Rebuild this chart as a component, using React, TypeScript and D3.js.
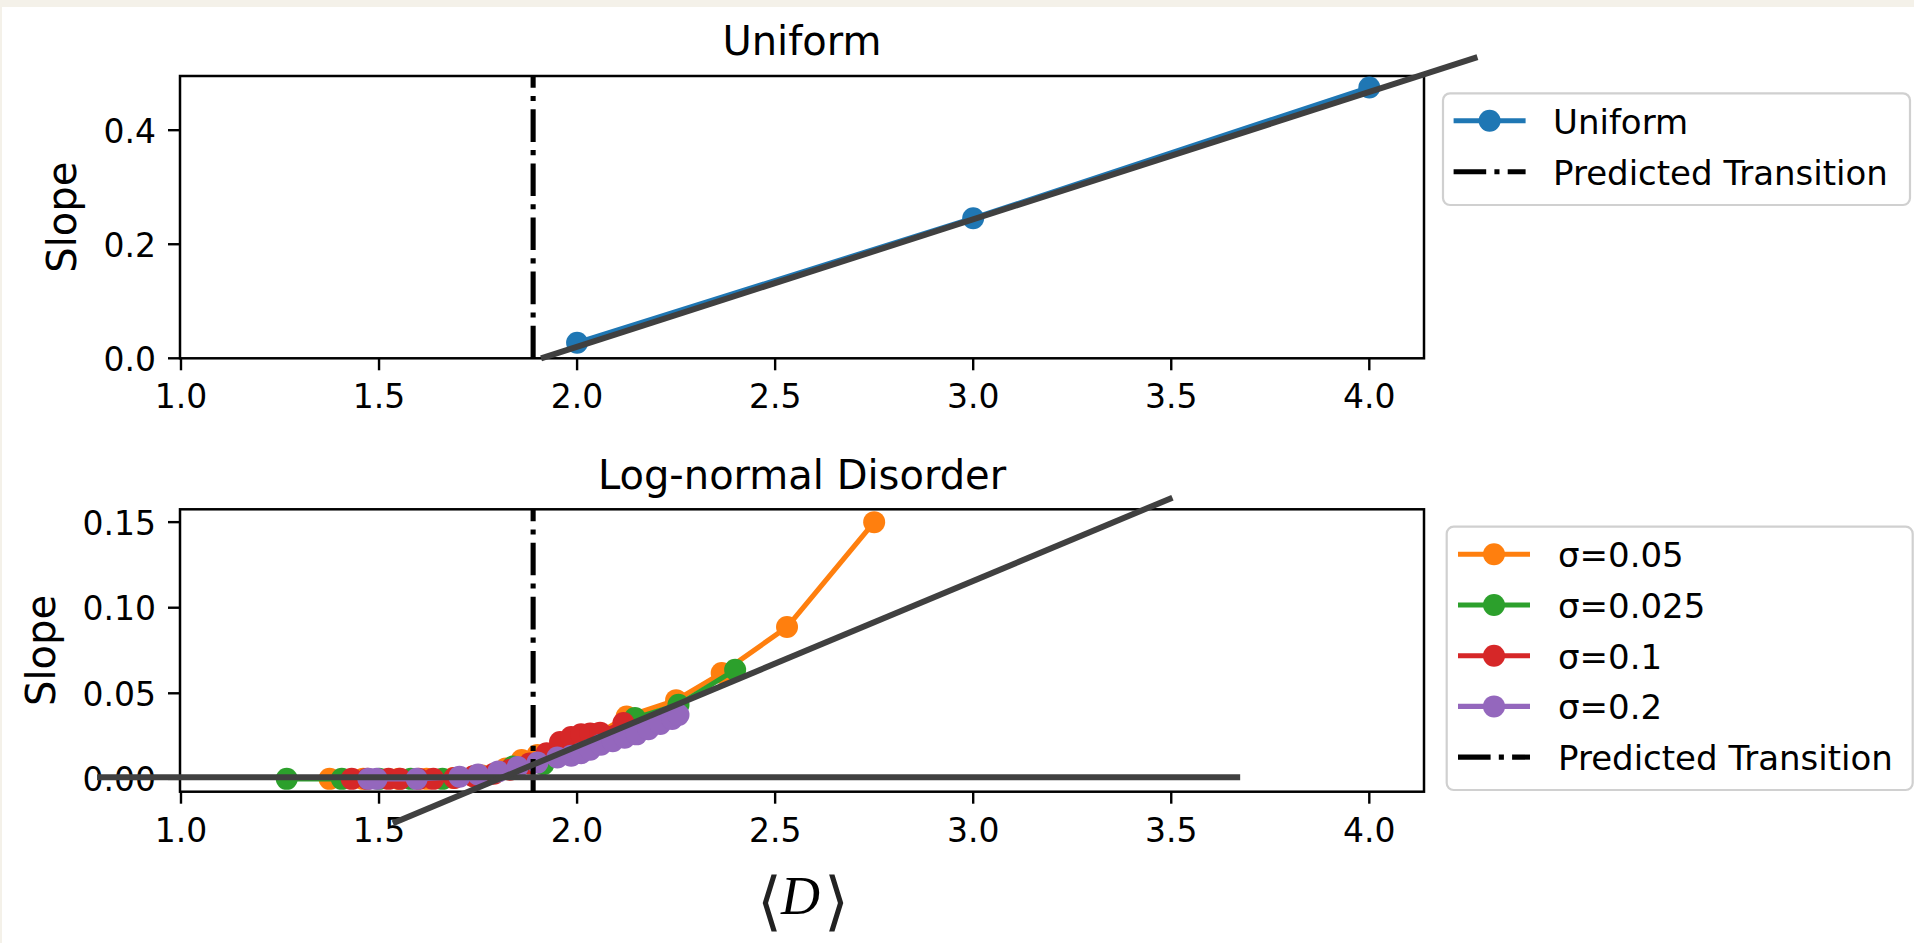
import React from 'react';
import * as d3 from 'd3';

// ---------- data ----------
const xTicks = [1.0, 1.5, 2.0, 2.5, 3.0, 3.5, 4.0];
const topYTicks = [0.0, 0.2, 0.4];
const botYTicks = [0.0, 0.05, 0.1, 0.15];

const transitionD = 1.889;

const uniformD = [2.0, 3.0, 4.0];
const uniformSlope = [0.0274, 0.2456, 0.475];

const topFitD = [1.909, 4.273];
const topFitSlope = [0.0, 0.528];

const diagFitD = [1.535, 3.503];
const diagFitSlope = [-0.0259, 0.1643];

const flatFitD = [0.788, 3.674];
const flatFitSlope = [0.001, 0.001];

const s005D = [1.375, 1.46, 1.55, 1.62, 1.688, 1.76, 1.82, 1.86, 1.9, 1.97, 2.05, 2.125, 2.25, 2.365, 2.53, 2.75];
const s005S = [0, 0, 0, 0, 0.0005, 0.002, 0.006, 0.011, 0.014, 0.019, 0.026, 0.0364, 0.046, 0.0618, 0.0887, 0.15];

const s0025D = [1.267, 1.406, 1.5, 1.58, 1.66, 1.74, 1.838, 1.915, 1.98, 2.06, 2.146, 2.256, 2.399];
const s0025S = [0, 0, 0, 0, 0, 0.0015, 0.0072, 0.0085, 0.016, 0.026, 0.0355, 0.0433, 0.0637];

const s01D = [1.431, 1.47, 1.524, 1.553, 1.6, 1.637, 1.69, 1.738, 1.79, 1.831, 1.88, 1.923, 1.957, 1.985, 2.01, 2.033, 2.058, 2.117];
const s01S = [0, 0, 0, 0, 0, 0, 0.0005, 0.0015, 0.003, 0.0053, 0.009, 0.015, 0.0215, 0.0245, 0.026, 0.0265, 0.027, 0.0326];

const s02D = [1.473, 1.494, 1.595, 1.703, 1.75, 1.801, 1.85, 1.9, 1.95, 1.985, 2.01, 2.033, 2.06, 2.09, 2.12, 2.15, 2.18, 2.21, 2.24, 2.256];
const s02S = [0, 0, 0, 0.0013, 0.0025, 0.0043, 0.007, 0.0095, 0.0125, 0.0135, 0.015, 0.017, 0.02, 0.022, 0.024, 0.026, 0.029, 0.032, 0.035, 0.0374];

const seriesNames = ['σ=0.05', 'σ=0.025', 'σ=0.1', 'σ=0.2'];
const seriesColors = ['#ff7f0e', '#2ca02c', '#d62728', '#9467bd'];
const seriesD = [s005D, s0025D, s01D, s02D];
const seriesS = [s005S, s0025S, s01S, s02S];

// ---------- layout ----------
const W = 1914;
const H = 943;
const AX_L = 180;
const AX_R = 1424;
const TOP_T = 76;
const TOP_B = 358.3;
const BOT_T = 509.3;
const BOT_B = 791.7;
const FONT = 'DejaVu Sans, Verdana, sans-serif';
const TICK_FS = 33;
const LEG_FS = 34;
const TITLE_FS = 40;
const LABEL_FS = 40;
const FIT_COLOR = '#404040';
const LW = 5.1;
const MR = 11;
const DASHDOT = '32.6 8.2 5.1 8.2';

const xScale = d3.scaleLinear().domain([0.9975, 4.1381]).range([AX_L, AX_R]);
const yTop = d3.scaleLinear().domain([0, 0.495]).range([TOP_B, TOP_T]);
const yBot = d3.scaleLinear().domain([-0.0075, 0.1575]).range([BOT_B, BOT_T]);

function pathOf(xs: number[], ys: number[], ys2: d3.ScaleLinear<number, number>) {
  const pts = xs.map((x, i) => [x, ys[i]] as [number, number]);
  const gen = d3.line<[number, number]>().x((d) => xScale(d[0])).y((d) => ys2(d[1]));
  return gen(pts) || '';
}

function Axes(props: {
  top: number;
  bottom: number;
  yScale: d3.ScaleLinear<number, number>;
  yTicks: number[];
  yFmt: (v: number) => string;
  title: string;
  titleY: number;
  ylabelX: number;
}) {
  const { top, bottom, yScale, yTicks, yFmt, title, titleY, ylabelX } = props;
  return (
    <g>
      <rect x={AX_L} y={top} width={AX_R - AX_L} height={bottom - top} fill="#ffffff" stroke="none" />
      {xTicks.map((t) => (
        <g key={'x' + t}>
          <line x1={xScale(t)} x2={xScale(t)} y1={bottom} y2={bottom + 12} stroke="#000" strokeWidth={2.4} />
          <text x={xScale(t)} y={bottom + 50} fontFamily={FONT} fontSize={TICK_FS} textAnchor="middle" fill="#000">
            {d3.format('.1f')(t)}
          </text>
        </g>
      ))}
      {yTicks.map((t) => (
        <g key={'y' + t}>
          <line x1={AX_L - 12} x2={AX_L} y1={yScale(t)} y2={yScale(t)} stroke="#000" strokeWidth={2.4} />
          <text x={AX_L - 24} y={yScale(t) + 12.5} fontFamily={FONT} fontSize={TICK_FS} textAnchor="end" fill="#000">
            {yFmt(t)}
          </text>
        </g>
      ))}
      <text x={(AX_L + AX_R) / 2} y={titleY} fontFamily={FONT} fontSize={TITLE_FS} textAnchor="middle" fill="#000">
        {title}
      </text>
      <text
        transform={`translate(${ylabelX},${(top + bottom) / 2}) rotate(-90)`}
        fontFamily={FONT}
        fontSize={LABEL_FS}
        textAnchor="middle"
        fill="#000"
      >
        Slope
      </text>
    </g>
  );
}

function Spines(props: { top: number; bottom: number }) {
  return (
    <rect
      x={AX_L}
      y={props.top}
      width={AX_R - AX_L}
      height={props.bottom - props.top}
      fill="none"
      stroke="#000"
      strokeWidth={2.5}
    />
  );
}

function Legend(props: {
  x: number;
  y: number;
  w: number;
  h: number;
  entries: { label: string; color: string; dashdot?: boolean }[];
  firstY: number;
  step: number;
  handleX: number;
  textX: number;
}) {
  const { x, y, w, h, entries, firstY, step, handleX, textX } = props;
  return (
    <g>
      <rect x={x} y={y} width={w} height={h} rx={7} ry={7} fill="#ffffff" fillOpacity={0.8} stroke="#d0d0d0" strokeWidth={2.2} />
      {entries.map((e, i) => {
        const cy = firstY + i * step;
        return (
          <g key={e.label}>
            {e.dashdot ? (
              <line x1={handleX} x2={handleX + 72} y1={cy} y2={cy} stroke="#000" strokeWidth={LW} strokeDasharray={DASHDOT} />
            ) : (
              <g>
                <line x1={handleX} x2={handleX + 72} y1={cy} y2={cy} stroke={e.color} strokeWidth={LW} />
                <circle cx={handleX + 36} cy={cy} r={MR} fill={e.color} />
              </g>
            )}
            <text x={textX} y={cy + 13} fontFamily={FONT} fontSize={LEG_FS} fill="#000">
              {e.label}
            </text>
          </g>
        );
      })}
    </g>
  );
}

export default function App() {
  return (
    <svg
      width={W}
      height={H}
      viewBox={`0 0 ${W} ${H}`}
      style={{ position: 'absolute', left: 0, top: 0, display: 'block' }}
    >
      <rect x={0} y={0} width={W} height={H} fill="#f4f1e9" />
      <rect x={2} y={7} width={W - 2} height={H - 7} fill="#ffffff" />

      {/* ---------- top panel ---------- */}
      <Axes
        top={TOP_T}
        bottom={TOP_B}
        yScale={yTop}
        yTicks={topYTicks}
        yFmt={d3.format('.1f')}
        title="Uniform"
        titleY={55}
        ylabelX={76}
      />
      <Spines top={TOP_T} bottom={TOP_B} />
      <path d={pathOf(uniformD, uniformSlope, yTop)} fill="none" stroke="#1f77b4" strokeWidth={LW} />
      {uniformD.map((d, i) => (
        <circle key={'u' + i} cx={xScale(d)} cy={yTop(uniformSlope[i])} r={MR} fill="#1f77b4" />
      ))}
      <line
        x1={xScale(transitionD)}
        x2={xScale(transitionD)}
        y1={TOP_B}
        y2={TOP_T}
        stroke="#000"
        strokeWidth={LW}
        strokeDasharray={DASHDOT}
      />
      <path d={pathOf(topFitD, topFitSlope, yTop)} fill="none" stroke={FIT_COLOR} strokeWidth={6} />
      <Legend
        x={1443}
        y={93.3}
        w={467}
        h={111.7}
        entries={[
          { label: 'Uniform', color: '#1f77b4' },
          { label: 'Predicted Transition', color: '#000', dashdot: true },
        ]}
        firstY={120.7}
        step={51}
        handleX={1453.6}
        textX={1553}
      />

      {/* ---------- bottom panel ---------- */}
      <Axes
        top={BOT_T}
        bottom={BOT_B}
        yScale={yBot}
        yTicks={botYTicks}
        yFmt={d3.format('.2f')}
        title="Log-normal Disorder"
        titleY={489}
        ylabelX={55}
      />
      <Spines top={BOT_T} bottom={BOT_B} />
      {seriesD.map((xs, si) => (
        <g key={'s' + si}>
          <path d={pathOf(xs, seriesS[si], yBot)} fill="none" stroke={seriesColors[si]} strokeWidth={LW} />
          {xs.map((d, i) => (
            <circle key={i} cx={xScale(d)} cy={yBot(seriesS[si][i])} r={MR} fill={seriesColors[si]} />
          ))}
        </g>
      ))}
      <line
        x1={xScale(transitionD)}
        x2={xScale(transitionD)}
        y1={BOT_B}
        y2={BOT_T}
        stroke="#000"
        strokeWidth={LW}
        strokeDasharray={DASHDOT}
      />
      <path d={pathOf(flatFitD, flatFitSlope, yBot)} fill="none" stroke={FIT_COLOR} strokeWidth={6} />
      <path d={pathOf(diagFitD, diagFitSlope, yBot)} fill="none" stroke={FIT_COLOR} strokeWidth={6} />
      <Legend
        x={1446.7}
        y={526.7}
        w={466}
        h={263.3}
        entries={[
          ...seriesNames.map((n, i) => ({ label: n, color: seriesColors[i] })),
          { label: 'Predicted Transition', color: '#000', dashdot: true },
        ]}
        firstY={554.3}
        step={50.7}
        handleX={1458}
        textX={1558}
      />

      {/* x label */}
      <text x={757} y={923} fontFamily="DejaVu Sans, sans-serif" fontSize={64} fontWeight={200} fill="#222">
        ⟨
      </text>
      <text x={781} y={913.5} fontFamily="Liberation Serif, DejaVu Serif, serif" fontStyle="italic" fontSize={54} fill="#000">
        D
      </text>
      <text x={824} y={923} fontFamily="DejaVu Sans, sans-serif" fontSize={64} fontWeight={200} fill="#222">
        ⟩
      </text>
    </svg>
  );
}
